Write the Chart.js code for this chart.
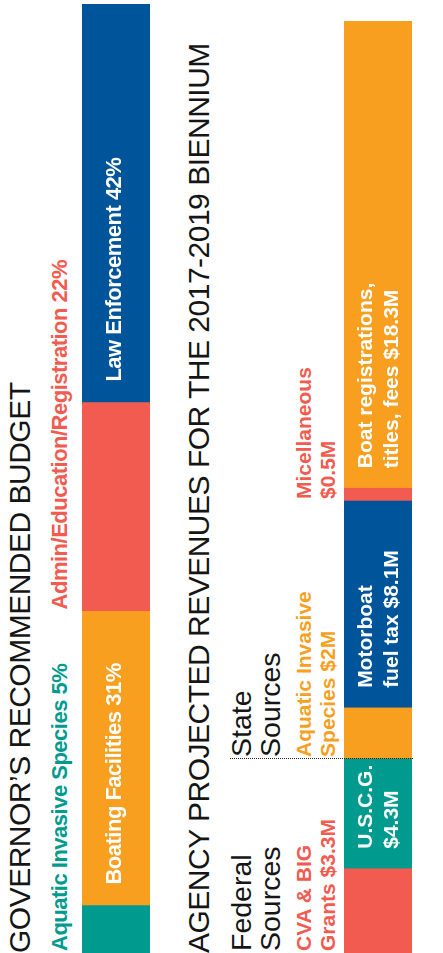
<!DOCTYPE html>
<html>
<head>
<meta charset="utf-8">
<script src="https://cdn.jsdelivr.net/npm/chart.js@4.4.1/dist/chart.umd.min.js"></script>
<style>
  html, body { margin: 0; padding: 0; background: #fff; overflow: hidden; }
  body { width: 443px; height: 953px; position: relative; font-family: "Liberation Sans", Arial, sans-serif; }
  /* everything is laid out sideways, then turned a quarter to the left */
  #page { position: absolute; left: 0; top: 0; width: 953px; height: 443px; transform-origin: 0 0; transform: translate(0, 953px) rotate(-90deg); }
  #page canvas { position: absolute; }
  .lbl { position: absolute; white-space: pre; }
  .title { font-size: 30px; letter-spacing: -0.5px; color: #151515; }
  .group { font-size: 28.5px; color: #151515; }
  .seg1 { font-size: 22px; font-weight: bold; letter-spacing: -0.5px; }
  .seg2 { font-size: 21px; font-weight: bold; }
  .dots { position: absolute; width: 0; border-left: 1px dotted #222; }
</style>
</head>
<body>
<div id="page">
  <canvas id="budgetChart" width="949" height="68" style="left:0;top:82px"></canvas>
  <canvas id="revenueChart" width="932" height="68" style="left:0;top:344px"></canvas>
</div>
<script>
// Governor's recommended budget (percent)
const budgetNames = ["Aquatic Invasive Species", "Boating Facilities", "Admin/Education/Registration", "Law Enforcement"];
const budgetPct = [5, 31, 22, 42];
const budgetColors = ["#009B8E", "#F89F1F", "#F15B50", "#00549A"];
const budgetInside = [false, true, false, true];

// Agency projected revenues ($ million), "\n" marks the line break of the label
const revenueNames = ["CVA & BIG\nGrants", "U.S.C.G.\n", "Aquatic Invasive\nSpecies", "Motorboat\nfuel tax", "Micellaneous\n", "Boat registrations,\ntitles, fees"];
const revenueMillions = [3.3, 4.3, 2, 8.1, 0.5, 18.3];
const revenueGroups = ["Federal", "Federal", "State", "State", "State", "State"];
const revenueColors = ["#F15B50", "#009B8E", "#F89F1F", "#00549A", "#F15B50", "#F89F1F"];
const revenueInside = [false, true, false, true, false, true];

const page = document.getElementById("page");

// place a text div so that its first baseline sits at "baseline"
function put(text, cls, left, baseline, size, lineH, color) {
    const el = document.createElement("div");
    el.className = "lbl " + cls;
    el.textContent = text;
    el.style.lineHeight = lineH + "px";
    el.style.left = left + "px";
    el.style.top = (baseline - lineH / 2 - 0.3465 * size) + "px";
    if (color) el.style.color = color;
    page.appendChild(el);
    return el;
}

function stackedBar(id, names, values, colors) {
    const total = values.reduce((a, b) => a + b, 0);
    return new Chart(document.getElementById(id), {
        type: "bar",
        data: {
            labels: [""],
            datasets: values.map((v, i) => ({
                label: names[i],
                data: [v],
                backgroundColor: colors[i],
                borderWidth: 0,
                barPercentage: 1,
                categoryPercentage: 1
            }))
        },
        options: {
            indexAxis: "y",
            responsive: false,
            animation: false,
            events: [],
            layout: { padding: 0 },
            plugins: { legend: { display: false }, tooltip: { enabled: false } },
            scales: {
                x: { stacked: true, display: false, min: 0, max: total },
                y: { stacked: true, display: false }
            }
        }
    });
}

const budgetChart = stackedBar("budgetChart", budgetNames, budgetPct, budgetColors);
const revenueChart = stackedBar("revenueChart", revenueNames, revenueMillions, revenueColors);

// titles
put("GOVERNOR’S RECOMMENDED BUDGET", "title", 0, 30.5, 30, 34);
put("AGENCY PROJECTED REVENUES FOR THE 2017-2019 BIENNIUM", "title", 0, 209, 30, 34);

// budget segment labels
let cum = 0;
budgetPct.forEach((v, i) => {
    const x = budgetChart.scales.x.getPixelForValue(cum);
    cum += v;
    const text = budgetNames[i] + " " + v + "%";
    if (budgetInside[i]) put(text, "seg1", x + 21, 122, 22, 26, "#fff");
    else put(text, "seg1", x + 2, 68, 22, 26, budgetColors[i]);
});

// revenue segment labels, group headings and the federal/state divider
cum = 0;
revenueMillions.forEach((v, i) => {
    const x = revenueChart.scales.x.getPixelForValue(cum);
    cum += v;
    const name = revenueNames[i];
    const text = name + (name.endsWith("\n") ? "" : " ") + "$" + v + "M";
    if (revenueInside[i]) put(text, "seg2", x + 20, 372, 21, 26, "#fff");
    else put(text, "seg2", x + 2, 311, 21, 24, revenueColors[i]);
    if (i === 0 || revenueGroups[i] !== revenueGroups[i - 1]) {
        put(revenueGroups[i] + "\nSources", "group", x + 2, 251, 28.5, 29);
        if (i > 0) {
            const d = document.createElement("div");
            d.className = "dots";
            d.style.left = Math.round(x) + "px";
            d.style.top = "230px";
            d.style.height = "183px";
            page.appendChild(d);
        }
    }
});
</script>
</body>
</html>
